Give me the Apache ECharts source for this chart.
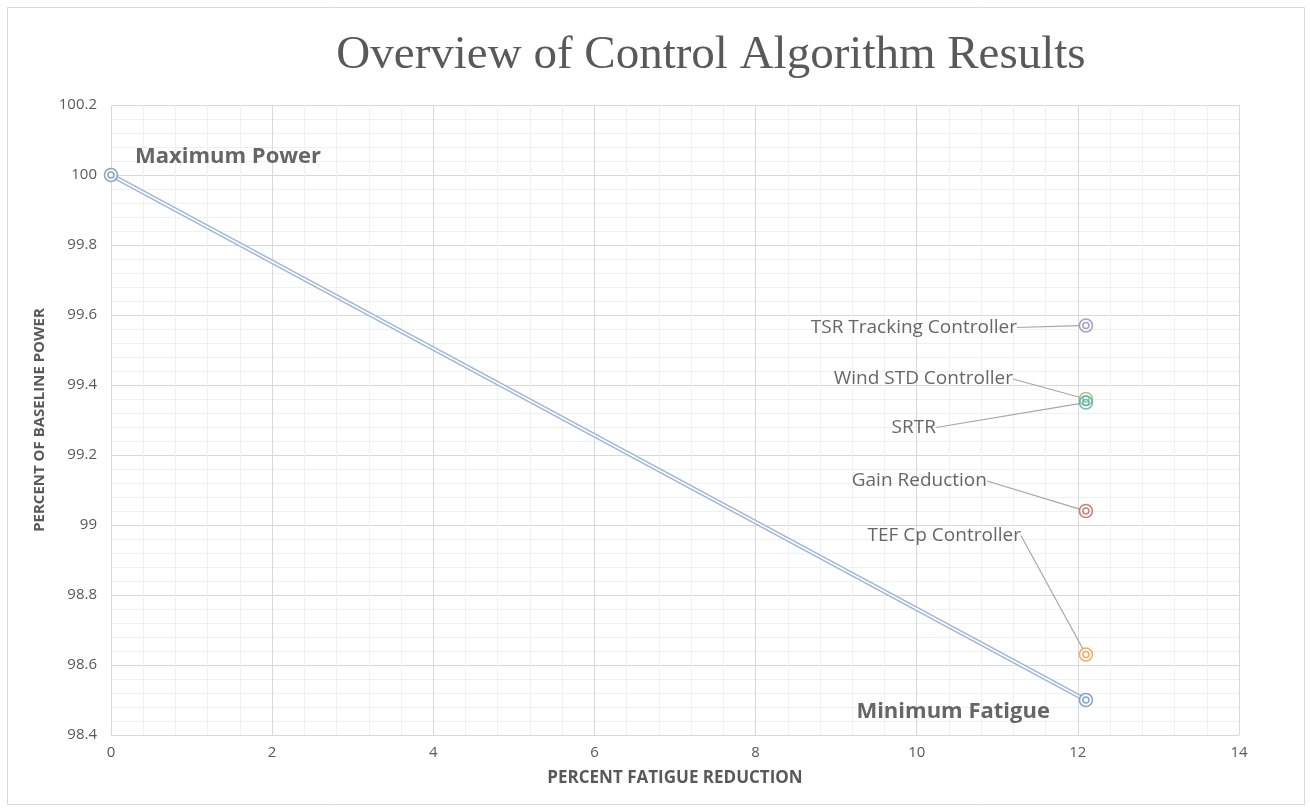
<!DOCTYPE html>
<html>
<head>
<meta charset="utf-8">
<script src="https://cdn.jsdelivr.net/npm/echarts@6/dist/echarts.min.js"></script>
<style>
  html, body { margin: 0; padding: 0; background: #fff; }
  #chart { width: 1310px; height: 810px; }
</style>
</head>
<body>
<div id="chart"></div>
<script>
// Controller results: fatigue reduction (%) vs. power relative to baseline (%)
const controllers = ['TSR Tracking Controller', 'Wind STD Controller', 'SRTR', 'Gain Reduction', 'TEF Cp Controller'];
const controllerFatigue = [12.1, 12.1, 12.1, 12.1, 12.1];
const controllerPower = [99.57, 99.36, 99.35, 99.04, 98.63];
const controllerColors = ['#9a86c0', '#9bbb59', '#4bacc6', '#c0625f', '#f7963f'];

// Trade-off bounds joined by the straight line
const boundNames = ['Maximum Power', 'Minimum Fatigue'];
const boundFatigue = [0, 12.1];
const boundPower = [100, 98.5];

// Label placement: pixel gap left of the marker and vertical shift
const labelPlacement = {
  'TSR Tracking Controller': { gap: 69, dy: 2 },
  'Wind STD Controller': { gap: 73, dy: -20 },
  'SRTR': { gap: 150, dy: 25 },
  'Gain Reduction': { gap: 99, dy: -30 },
  'TEF Cp Controller': { gap: 65, dy: -119 }
};

const chart = echarts.init(document.getElementById('chart'));

const ringOuter = 13;
const ringInner = 6;

function ringSeries(name, data, color, size, withLabel) {
  return {
    type: 'scatter',
    name: name,
    data: data,
    symbol: 'circle',
    symbolSize: size,
    z: 5,
    itemStyle: { color: 'rgba(255,255,255,0)', borderColor: color, borderWidth: 1.6 },
    label: withLabel ? {
      show: true,
      formatter: name,
      color: '#404040',
      fontFamily: 'Open Sans',
      fontSize: 19
    } : { show: false },
    labelLine: withLabel ? { show: true, lineStyle: { color: '#a6a6a6', width: 1.2 } } : { show: false },
    labelLayout: withLabel ? function (p) {
      const pl = labelPlacement[name];
      return {
        x: p.rect.x + p.rect.width / 2 - pl.gap,
        y: p.rect.y + p.rect.height / 2 + pl.dy,
        align: 'right',
        verticalAlign: 'middle'
      };
    } : undefined,
    emphasis: { disabled: true },
    silent: true
  };
}

const boundData = boundFatigue.map((x, i) => [x, boundPower[i]]);

const series = [
  {
    type: 'line',
    data: boundData,
    symbol: 'none',
    lineStyle: { color: '#9db5dc', width: 4.5 },
    z: 2, silent: true
  },
  {
    type: 'line',
    data: boundData,
    symbol: 'none',
    lineStyle: { color: '#ffffff', width: 1.6 },
    z: 3, silent: true
  },
  {
    type: 'scatter',
    data: boundData.map((d, i) => ({ value: d, name: boundNames[i] })),
    symbol: 'circle',
    symbolSize: ringOuter,
    z: 5,
    itemStyle: { color: '#ffffff', borderColor: '#6f8fc4', borderWidth: 1.6 },
    label: {
      show: true,
      formatter: '{b}',
      color: '#404040',
      fontFamily: 'Open Sans',
      fontWeight: 'bold',
      fontSize: 22
    },
    labelLayout: function (p) {
      const cx = p.rect.x + p.rect.width / 2;
      const cy = p.rect.y + p.rect.height / 2;
      if (p.dataIndex === 0) {
        return { x: cx + 24, y: cy - 18, align: 'left', verticalAlign: 'middle' };
      }
      return { x: cx - 36, y: cy + 12, align: 'right', verticalAlign: 'middle' };
    },
    silent: true
  },
  ringSeries('bound-inner', boundData, '#6f8fc4', ringInner, false)
];

controllers.forEach((name, i) => {
  const pt = [[controllerFatigue[i], controllerPower[i]]];
  series.push(ringSeries(name, pt, controllerColors[i], ringOuter, true));
  series.push(ringSeries(name + '-inner', pt, controllerColors[i], ringInner, false));
});

chart.setOption({
  backgroundColor: '#ffffff',
  animation: false,
  title: {
    text: 'Overview of Control Algorithm Results',
    left: 706,
    top: 27,
    textAlign: 'center',
    textStyle: { fontFamily: 'Liberation Serif', fontWeight: 'normal', fontSize: 47, color: '#595959' }
  },
  graphic: [{
    type: 'rect',
    shape: { x: 7.5, y: 7.5, width: 1297, height: 797 },
    style: { fill: 'none', stroke: '#d9d9d9', lineWidth: 1 },
    silent: true
  }],
  grid: { left: 111, right: 71, top: 105, bottom: 75, containLabel: false },
  xAxis: {
    type: 'value',
    min: 0, max: 14, interval: 2,
    name: 'PERCENT FATIGUE REDUCTION',
    nameLocation: 'middle',
    nameGap: 35,
    nameTextStyle: { fontFamily: 'Open Sans', fontWeight: 'bold', fontSize: 17, color: '#595959' },
    axisLine: { show: true, lineStyle: { color: '#d9d9d9' } },
    axisTick: { show: false },
    axisLabel: { color: '#595959', fontFamily: 'Open Sans', fontSize: 15, margin: 10 },
    splitLine: { show: true, lineStyle: { color: '#d9d9d9', width: 1 } },
    minorTick: { show: false, splitNumber: 5 },
    minorSplitLine: { show: true, lineStyle: { color: '#f0f0f0', width: 1 } }
  },
  yAxis: {
    type: 'value',
    min: 98.4, max: 100.2, interval: 0.2,
    name: 'PERCENT OF BASELINE POWER',
    nameLocation: 'middle',
    nameGap: 64,
    nameTextStyle: { fontFamily: 'Open Sans', fontWeight: 'bold', fontSize: 15, color: '#595959' },
    axisLine: { show: false },
    axisTick: { show: false },
    axisLabel: { color: '#595959', fontFamily: 'Open Sans', fontSize: 15, margin: 14 },
    splitLine: { show: true, lineStyle: { color: '#d9d9d9', width: 1 } },
    minorTick: { show: false, splitNumber: 5 },
    minorSplitLine: { show: true, lineStyle: { color: '#f0f0f0', width: 1 } }
  },
  series: series
});
</script>
</body>
</html>
